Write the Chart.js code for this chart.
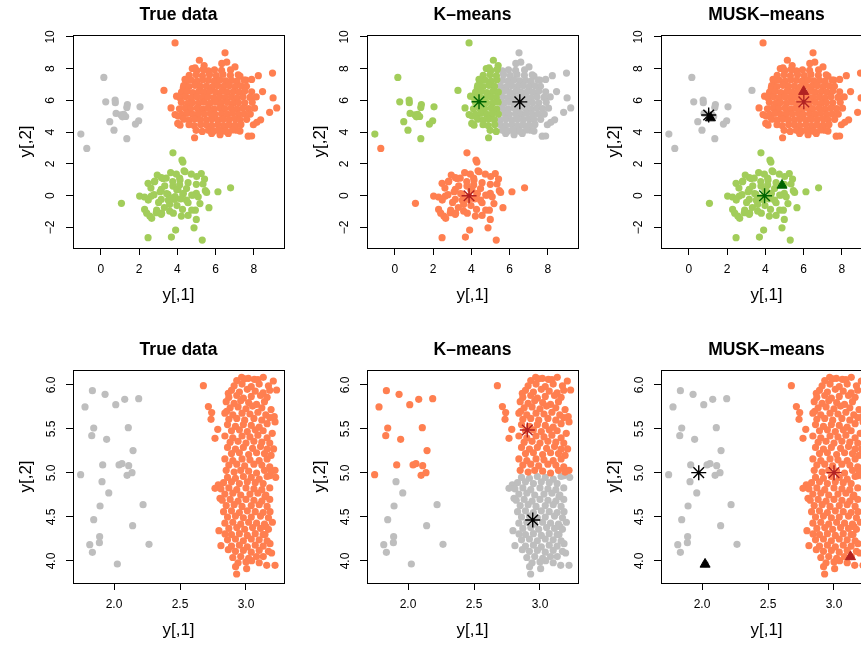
<!DOCTYPE html>
<html lang="en">
  <head>
    <meta charset="UTF-8" />
    <title>True data / K-means / MUSK-means</title>
    <script src="https://cdn.jsdelivr.net/npm/chart.js"></script>
    <style>
      body {
        margin: 0;
        background: #fff;
        overflow: hidden;
      }
      #fig {
        position: relative;
        width: 861px;
        height: 648px;
        overflow: hidden;
      }
      .panel {
        position: absolute;
        width: 294px;
        height: 335px;
      }
    </style>
  </head>
  <body>
    <div id="fig">
      <div class="panel" style="left: 0; top: 0"><canvas id="topTrue" width="294" height="335"></canvas></div>
      <div class="panel" style="left: 294px; top: 0"><canvas id="topKm" width="294" height="335"></canvas></div>
      <div class="panel" style="left: 588px; top: 0"><canvas id="topMusk" width="294" height="335"></canvas></div>
      <div class="panel" style="left: 0; top: 335px"><canvas id="botTrue" width="294" height="335"></canvas></div>
      <div class="panel" style="left: 294px; top: 335px"><canvas id="botKm" width="294" height="335"></canvas></div>
      <div class="panel" style="left: 588px; top: 335px"><canvas id="botMusk" width="294" height="335"></canvas></div>
    </div>

    <script>
      // ---- axes ----
      const topXTicks = [0, 2, 4, 6, 8];
      const topXLabels = ["0", "2", "4", "6", "8"];
      const topYTicks = [-2, 0, 2, 4, 6, 8, 10];
      const topYLabels = ["\u22122", "0", "2", "4", "6", "8", "10"];
      const botXTicks = [2, 2.5, 3];
      const botXLabels = ["2.0", "2.5", "3.0"];
      const botYTicks = [4, 4.5, 5, 5.5, 6];
      const botYLabels = ["4.0", "4.5", "5.0", "5.5", "6.0"];
      const topXRange = [-1.45, 9.57];
      const topYRange = [-3.29, 10.12];
      const botXRange = [1.689, 3.288];
      const botYRange = [3.75, 6.17];

      // ---- top row data (y[,1], y[,2]) ----
      const grayTop = [
        [0.16, 7.45], [0.26, 5.91], [0.75, 6.02], [0.76, 5.86], [1.39, 5.74], [1.36, 5.56],
        [2.05, 5.6], [0.8, 5.18], [1.05, 5.1], [1.2, 5.13], [1.3, 4.99], [1.13, 4.97],
        [0.47, 4.66], [1.98, 4.72], [1.81, 4.51], [0.69, 4.13], [1.36, 3.59], [-1.04, 3.88]
      ];
      const grayTopStray = [[-0.73, 2.98]];
      const orangeTopBridge = [[3.3, 6.63]];

      const greenTop = [
        [3.77, 2.7], [4.24, 2.25], [4.29, 2.12], [4.35, 1.57], [2.95, 1.3], [3.65, 1.45],
        [2.82, 0.92], [2.47, 0.78], [3.16, 1.15], [3.42, 1.11], [3.95, 1.36], [4.12, 1.11],
        [4.73, 1.36], [5.25, 1.4], [5.42, 1.05], [5.34, 0.74], [5.46, 0.32], [6.12, 0.25],
        [6.78, 0.5], [4.56, 0.82], [4.99, 0.72], [3.77, 0.61], [3.16, 0.4], [4.03, 0.4],
        [3.51, 0.09], [4.29, 0.09], [4.82, 0.03], [4.99, 0.15], [2.03, -0.02], [2.29, -0.08],
        [2.64, -0.02], [3.16, -0.23], [3.6, -0.54], [3.86, -0.23], [4.56, -0.44], [1.08, -0.48],
        [2.29, -0.86], [2.56, -1.28], [2.9, -1.07], [3.16, -1.17], [3.6, -0.97], [4.21, -1.28],
        [4.56, -1.24], [4.94, -0.91], [4.99, -1.49], [5.65, -0.75], [4.87, -2.02], [3.91, -2.16],
        [2.47, -2.64], [3.69, -2.6], [5.3, -2.79],
        [2.8, 0.88], [3.25, 1.09], [3.76, 0.89], [4.14, 0.99], [4.4, 1.51], [5.01, 1.21],
        [5.53, 0.21], [2.48, -0.27], [2.78, 0.07], [3.1, 0.25], [3.44, 0.14], [3.53, -0.28],
        [3.88, -0.05], [3.97, 0.37], [4.31, 0.15], [4.48, -0.28], [4.75, 0.04], [5.09, -0.07],
        [5.18, -0.49], [2.4, -1.1], [2.66, -1.42], [2.92, -0.9], [3.18, -1.1], [3.79, -1.1],
        [4.75, -0.9], [3.34, 0.62], [4.12, 0.68], [4.48, 0.45], [2.62, 0.48], [3.02, -0.42],
        [3.32, -0.74], [3.98, -0.62], [4.27, -0.86], [3.71, -0.15], [4.18, -0.2]
      ];

      // orange blob, west part (x < 5.45) and east part
      const orangeTopWest = [
        [3.88, 9.62], [5.15, 8.53], [4.92, 8.05], [5.4, 8.2], [4.78, 8.01], [4.4, 7.32],
        [4.31, 6.79], [3.96, 6.27], [3.67, 5.53], [3.88, 5.11], [4.05, 5.01], [4.14, 4.44],
        [4.9, 3.65], [5.3, 4.05], [4.02, 4.55],
        [5.02, 7.88], [5.35, 7.95],
        [4.62, 7.58], [4.98, 7.63], [5.31, 7.55],
        [4.45, 7.22], [4.73, 7.28], [5.04, 7.21], [5.33, 7.3],
        [4.33, 6.93], [4.61, 6.87], [4.92, 6.95], [5.21, 6.88],
        [4.22, 6.52], [4.52, 6.58], [4.81, 6.5], [5.12, 6.57], [5.41, 6.53],
        [4.12, 6.18], [4.43, 6.24], [4.71, 6.16], [5.02, 6.22], [5.3, 6.19],
        [4.21, 5.88], [4.53, 5.82], [4.79, 5.87], [5.11, 5.83], [5.4, 5.89],
        [4.11, 5.47], [4.42, 5.53], [4.7, 5.49], [5.03, 5.52], [5.32, 5.46],
        [4.22, 5.13], [4.5, 5.18], [4.81, 5.12], [5.09, 5.17], [5.41, 5.14],
        [4.33, 4.82], [4.62, 4.77], [4.91, 4.83], [5.2, 4.79],
        [4.61, 4.47], [4.88, 4.42], [5.22, 4.48],
        [4.98, 4.12]
      ];
      const orangeTopEast = [
        [6.49, 9.0], [6.58, 8.41], [6.32, 8.33], [7.01, 8.11], [7.27, 7.53], [7.88, 7.32],
        [8.23, 7.56], [8.97, 7.72], [8.45, 6.56], [9.0, 6.16], [8.82, 5.25], [9.19, 5.53],
        [8.35, 4.78], [7.97, 4.47], [8.15, 4.62], [7.7, 3.75], [7.88, 3.76], [7.27, 4.07],
        [7.1, 4.13], [6.66, 3.92], [6.23, 3.84], [5.79, 3.92], [6.49, 4.07], [7.58, 7.28],
        [5.62, 7.86], [5.94, 7.93], [6.31, 7.89], [6.78, 7.92],
        [5.68, 7.62], [6.03, 7.57], [6.38, 7.64], [6.77, 7.58], [7.18, 7.61],
        [5.62, 7.27], [5.91, 7.22], [6.21, 7.29], [6.52, 7.23], [6.83, 7.26], [7.12, 7.21], [7.49, 7.28],
        [5.52, 6.91], [5.83, 6.86], [6.11, 6.93], [6.42, 6.88], [6.71, 6.94], [7.02, 6.87], [7.33, 6.92], [7.61, 6.89],
        [5.69, 6.57], [6.01, 6.51], [6.32, 6.58], [6.61, 6.52], [6.92, 6.56], [7.21, 6.53], [7.52, 6.59], [7.88, 6.54],
        [5.58, 6.22], [5.89, 6.17], [6.21, 6.23], [6.49, 6.18], [6.82, 6.21], [7.11, 6.16], [7.42, 6.24], [7.79, 6.19], [8.12, 6.22],
        [5.71, 5.84], [6.02, 5.89], [6.29, 5.83], [6.61, 5.88], [6.92, 5.82], [7.19, 5.87], [7.52, 5.85], [7.91, 5.88],
        [5.59, 5.52], [5.91, 5.47], [6.22, 5.53], [6.48, 5.49], [6.81, 5.51], [7.12, 5.46], [7.41, 5.52], [7.72, 5.48], [8.03, 5.51],
        [5.72, 5.17], [5.98, 5.12], [6.31, 5.16], [6.62, 5.13], [6.88, 5.18], [7.21, 5.12], [7.49, 5.16], [7.81, 5.14],
        [5.52, 4.78], [5.81, 4.83], [6.12, 4.77], [6.39, 4.82], [6.71, 4.79], [7.02, 4.84], [7.28, 4.78], [7.62, 4.81],
        [5.51, 4.47], [5.79, 4.43], [6.11, 4.48], [6.42, 4.42], [6.69, 4.46], [7.01, 4.44], [7.32, 4.49],
        [5.62, 4.12], [5.91, 4.08], [6.19, 4.13], [6.52, 4.09], [6.88, 4.14]
      ];

      // ---- bottom row data ----
      const grayBotHigh = [
        [1.836, 5.935], [1.932, 5.894], [1.78, 5.75], [2.013, 5.776], [2.081, 5.837], [2.187, 5.844],
        [1.846, 5.511], [2.108, 5.515], [1.831, 5.424], [1.944, 5.382], [2.144, 5.254], [1.914, 5.091],
        [2.038, 5.091], [2.06, 5.106], [2.111, 5.083], [1.747, 4.981], [2.099, 4.973], [2.136, 5.004]
      ];
      const grayBotLow = [
        [1.909, 4.901], [1.96, 4.773], [1.894, 4.625], [2.22, 4.64], [1.846, 4.47], [2.141, 4.401],
        [1.891, 4.276], [1.889, 4.208], [1.816, 4.185], [2.265, 4.189], [1.836, 4.099], [2.025, 3.966]
      ];
      const orangeBotHigh = [
        [2.677, 5.992], [2.715, 5.754], [2.74, 5.686], [2.735, 5.61], [2.786, 5.496], [2.765, 5.394],
        [2.866, 5.905], [2.854, 5.7], [3.232, 5.943], [3.207, 6.045], [3.131, 6.087], [3.063, 6.064],
        [3.018, 6.075], [2.967, 6.087], [3.214, 5.64], [3.22, 5.58], [3.199, 5.451], [3.209, 5.273],
        [3.22, 5.03],
        [2.93, 6.05], [2.99, 6.07], [3.09, 6.06],
        [2.91, 5.99], [2.97, 6.01], [3.04, 5.98], [3.1, 6.01], [3.17, 5.99],
        [2.89, 5.94], [2.95, 5.92], [3.01, 5.95], [3.07, 5.93], [3.13, 5.91], [3.18, 5.94],
        [2.87, 5.86], [2.93, 5.88], [2.98, 5.85], [3.04, 5.87], [3.11, 5.88], [3.16, 5.86],
        [2.85, 5.81], [2.91, 5.79], [2.96, 5.82], [3.02, 5.8], [3.08, 5.78], [3.14, 5.81],
        [2.88, 5.74], [2.94, 5.75], [3.0, 5.73], [3.05, 5.76], [3.12, 5.74], [3.19, 5.72],
        [2.84, 5.68], [2.9, 5.66], [2.97, 5.68], [3.03, 5.67], [3.09, 5.69], [3.15, 5.66],
        [2.87, 5.61], [2.93, 5.62], [2.99, 5.6], [3.06, 5.62], [3.12, 5.6], [3.18, 5.63],
        [2.86, 5.55], [2.92, 5.53], [2.98, 5.55], [3.04, 5.54], [3.1, 5.52], [3.16, 5.56],
        [2.89, 5.48], [2.95, 5.49], [3.01, 5.47], [3.07, 5.49], [3.13, 5.48],
        [2.84, 5.42], [2.9, 5.4], [2.97, 5.42], [3.03, 5.41], [3.09, 5.43], [3.16, 5.4],
        [2.88, 5.35], [2.94, 5.36], [3.0, 5.34], [3.06, 5.36], [3.12, 5.35], [3.18, 5.34],
        [2.86, 5.29], [2.92, 5.27], [2.98, 5.29], [3.05, 5.28], [3.11, 5.3], [3.16, 5.27],
        [2.89, 5.22], [2.95, 5.23], [3.02, 5.21], [3.08, 5.23], [3.14, 5.22], [3.19, 5.2],
        [2.84, 5.16], [2.9, 5.14], [2.97, 5.16], [3.03, 5.15], [3.1, 5.14], [3.16, 5.16],
        [2.87, 5.09], [2.93, 5.1], [2.99, 5.08], [3.06, 5.1], [3.12, 5.09], [3.18, 5.07],
        [2.85, 5.03], [2.91, 5.01], [2.96, 5.03], [3.02, 5.02], [3.08, 5.0], [3.14, 5.03], [3.19, 5.01]
      ];
      const orangeBotLow = [
        [2.79, 4.864], [2.765, 4.826], [2.803, 4.712], [2.795, 4.344], [2.841, 4.307], [2.81, 4.174],
        [2.866, 4.129], [2.921, 3.936], [2.929, 3.852], [3.005, 3.913], [3.043, 4.004], [3.157, 3.951],
        [3.22, 3.951], [3.194, 4.091], [3.182, 4.197], [3.225, 4.951], [3.182, 4.97], [3.144, 4.731],
        [3.182, 4.56], [3.152, 4.39], [3.144, 4.3], [3.131, 4.05],
        [2.86, 4.95], [2.92, 4.94], [2.98, 4.96], [3.04, 4.95], [3.1, 4.93], [3.16, 4.96],
        [2.83, 4.89], [2.89, 4.9], [2.95, 4.88], [3.01, 4.9], [3.07, 4.89], [3.13, 4.88],
        [2.81, 4.82], [2.87, 4.83], [2.93, 4.81], [3.0, 4.83], [3.06, 4.82], [3.12, 4.81], [3.18, 4.83],
        [2.84, 4.76], [2.9, 4.77], [2.96, 4.75], [3.03, 4.76], [3.09, 4.77], [3.15, 4.75],
        [2.82, 4.69], [2.88, 4.7], [2.94, 4.68], [3.0, 4.7], [3.06, 4.69], [3.12, 4.68], [3.18, 4.7],
        [2.85, 4.63], [2.91, 4.64], [2.97, 4.62], [3.04, 4.63], [3.1, 4.64], [3.16, 4.62],
        [2.83, 4.56], [2.89, 4.57], [2.95, 4.55], [3.01, 4.57], [3.07, 4.56], [3.13, 4.55],
        [2.86, 4.5], [2.92, 4.51], [2.98, 4.49], [3.04, 4.5], [3.11, 4.51], [3.17, 4.49],
        [2.84, 4.43], [2.9, 4.44], [2.96, 4.42], [3.02, 4.44], [3.08, 4.43], [3.14, 4.42], [3.2, 4.44],
        [2.87, 4.37], [2.93, 4.38], [2.99, 4.36], [3.05, 4.38], [3.11, 4.37], [3.17, 4.36],
        [2.89, 4.3], [2.95, 4.31], [3.01, 4.29], [3.07, 4.31], [3.13, 4.3],
        [2.86, 4.24], [2.92, 4.25], [2.98, 4.23], [3.04, 4.25], [3.1, 4.24], [3.16, 4.23],
        [2.89, 4.17], [2.95, 4.18], [3.01, 4.16], [3.07, 4.18], [3.13, 4.17],
        [2.92, 4.11], [2.98, 4.12], [3.04, 4.1], [3.1, 4.12], [3.17, 4.11],
        [2.9, 4.04], [2.96, 4.05], [3.02, 4.03], [3.08, 4.05],
        [2.94, 3.98], [3.0, 3.99], [3.1, 3.98]
      ];

      // ---- cluster centres ----
      const kmTopCenters = [[4.4, 5.92], [6.53, 5.91], [3.88, 0.0]];
      const kmTopColors = ["#006400", "#000000", "#B22222"];
      const muskTopStars = [[1.04, 5.08], [6.01, 5.91], [3.96, 0.0]];
      const muskTopTriangles = [[1.13, 4.9], [6.0, 6.56], [4.87, 0.66]];
      const muskTopColors = ["#000000", "#B22222", "#006400"];
      const kmBotCenters = [[2.904, 5.489], [2.945, 4.466]];
      const kmBotColors = ["#B22222", "#000000"];
      const muskBotStars = [[1.975, 5.004], [3.0, 5.004]];
      const muskBotTriangles = [[2.023, 3.963], [3.125, 4.048]];
      const muskBotColors = ["#000000", "#B22222"];

      const CORAL = "#FF7F50";
      const GREEN = "#A2CD5A";
      const GREY = "#BEBEBE";

      Chart.defaults.font.family = '"Liberation Sans", Arial, Helvetica, sans-serif';
      Chart.defaults.color = "#000";

      const toXY = (pts) => pts.map((p) => ({ x: p[0], y: p[1] }));

      function dots(pts, color) {
        return {
          data: toXY(pts),
          backgroundColor: color,
          borderWidth: 0,
          pointRadius: 3.6,
          order: 1,
        };
      }

      function marks(pts, colors, style) {
        const star = style === "star";
        return {
          data: toXY(pts),
          pointStyle: style,
          pointRadius: star ? 7.5 : 5.8,
          backgroundColor: colors,
          borderColor: colors,
          borderWidth: star ? 1.4 : 1,
          order: 0,
        };
      }

      function axis(range, ticks, labels, title, isY, tickPad) {
        return {
          type: "linear",
          min: range[0],
          max: range[1],
          afterBuildTicks: (a) => {
            a.ticks = ticks.map((v) => ({ value: v }));
          },
          afterFit: (a) => {
            if (isY) a.width = 73;
            else a.height = 87;
          },
          ticks: {
            autoSkip: false,
            color: "#000",
            font: { size: 12, lineHeight: 1 },
            padding: tickPad,
            minRotation: isY ? 90 : 0,
            maxRotation: isY ? 90 : 0,
            crossAlign: isY ? "center" : "near",
            callback: (v, i) => labels[i],
          },
          grid: {
            drawOnChartArea: false,
            drawTicks: true,
            tickLength: 7,
            color: "#000",
            lineWidth: 1,
          },
          border: { display: true, color: "#000", width: 1 },
          title: {
            display: true,
            text: title,
            color: "#000",
            font: { size: 17, lineHeight: 1 },
            padding: isY ? { top: 17.5, bottom: 0 } : { top: 0, bottom: 31.5 },
          },
        };
      }

      // box around the plot region, like R's plot()
      const frame = {
        id: "frame",
        afterDraw(chart) {
          const { ctx, chartArea: a } = chart;
          ctx.save();
          ctx.strokeStyle = "#000";
          ctx.lineWidth = 1;
          ctx.strokeRect(
            Math.round(a.left) + 0.5,
            Math.round(a.top) + 0.5,
            Math.round(a.right - a.left),
            Math.round(a.bottom - a.top)
          );
          ctx.restore();
        },
      };

      function panel(id, title, top, datasets) {
        const xs = top
          ? axis(topXRange, topXTicks, topXLabels, "y[,1]", false, 9)
          : axis(botXRange, botXTicks, botXLabels, "y[,1]", false, 9);
        const ys = top
          ? axis(topYRange, topYTicks, topYLabels, "y[,2]", true, 8.3)
          : axis(botYRange, botYTicks, botYLabels, "y[,2]", true, 6);
        new Chart(document.getElementById(id), {
          type: "scatter",
          data: { datasets: datasets },
          options: {
            responsive: false,
            animation: false,
            events: [],
            layout: { padding: { left: 0, right: 10, top: 0, bottom: 0 } },
            plugins: {
              legend: { display: false },
              tooltip: { enabled: false },
              title: {
                display: true,
                text: title,
                fullSize: false,
                color: "#000",
                font: { size: 17.5, weight: "bold", lineHeight: 1 },
                padding: { top: 6, bottom: 11.5 },
              },
            },
            scales: { x: xs, y: ys },
          },
          plugins: [frame],
        });
      }

      // top row
      panel("topTrue", "True data", true, [
        dots(grayTop.concat(grayTopStray), GREY),
        dots(greenTop, GREEN),
        dots(orangeTopWest.concat(orangeTopBridge, orangeTopEast), CORAL),
      ]);
      panel("topKm", "K\u2013means", true, [
        marks(kmTopCenters, kmTopColors, "star"),
        dots(grayTop.concat(orangeTopBridge, orangeTopWest), GREEN),
        dots(orangeTopEast, GREY),
        dots(greenTop.concat(grayTopStray), CORAL),
      ]);
      panel("topMusk", "MUSK\u2013means", true, [
        marks(muskTopStars, muskTopColors, "star"),
        marks(muskTopTriangles, muskTopColors, "triangle"),
        dots(grayTop.concat(grayTopStray, orangeTopBridge), GREY),
        dots(greenTop, GREEN),
        dots(orangeTopWest.concat(orangeTopEast), CORAL),
      ]);

      // bottom row
      panel("botTrue", "True data", false, [
        dots(grayBotHigh.concat(grayBotLow), GREY),
        dots(orangeBotHigh.concat(orangeBotLow), CORAL),
      ]);
      panel("botKm", "K\u2013means", false, [
        marks(kmBotCenters, kmBotColors, "star"),
        dots(grayBotHigh.concat(orangeBotHigh), CORAL),
        dots(grayBotLow.concat(orangeBotLow), GREY),
      ]);
      panel("botMusk", "MUSK\u2013means", false, [
        marks(muskBotStars, muskBotColors, "star"),
        marks(muskBotTriangles, muskBotColors, "triangle"),
        dots(grayBotHigh.concat(grayBotLow), GREY),
        dots(orangeBotHigh.concat(orangeBotLow), CORAL),
      ]);
    </script>
  </body>
</html>
